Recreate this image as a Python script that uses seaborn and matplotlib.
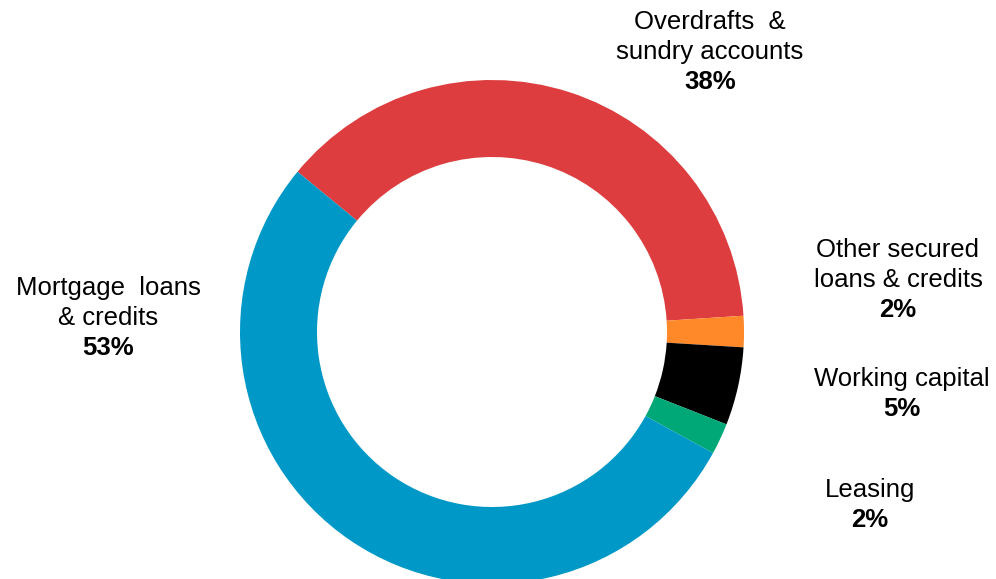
import matplotlib
matplotlib.use("Agg")
import matplotlib.pyplot as plt
import seaborn as sns

# shares of the loan book (clockwise from the top-left boundary)
categories = ["Overdrafts  &\nsundry accounts", "Other secured\nloans & credits",
              "Working capital", "Leasing", "Mortgage  loans\n& credits"]
shares = [38, 2, 5, 2, 53]
colors = ["#DD3D3E", "#FF8828", "#000000", "#00A878", "#0098C7"]

sns.set_style("white")
plt.rcParams["font.family"] = ["Liberation Sans", "DejaVu Sans"]

fig = plt.figure(figsize=(9.96, 5.79), dpi=100)
ax = fig.add_axes([0, 0, 1, 1])

ax.pie(shares, colors=colors, startangle=140.5, counterclock=False,
       center=(492, 247), radius=252,
       wedgeprops=dict(width=77, edgecolor="none"))

# pie() resets the limits, so set the pixel frame afterwards
ax.set_xlim(0, 996)
ax.set_ylim(0, 579)
ax.set_aspect("equal")
ax.axis("off")

# label anchors in pixel space (x, y of first line from top)
label_pos = [(710, 22), (898, 250), (902, 379), (870, 490), (108, 288)]
pitch = 30
for name, val, (x, y) in zip(categories, shares, label_pos):
    lines = name.split("\n")
    for i, line in enumerate(lines):
        ax.text(x, 579 - (y + pitch * i), line, ha="center", va="center",
                fontsize=18.5, color="#000000")
    ax.text(x, 579 - (y + pitch * len(lines)), f"{val}%", ha="center",
            va="center", fontsize=18.5, fontweight="bold", color="#000000")

fig.savefig("out.png", dpi=100)
